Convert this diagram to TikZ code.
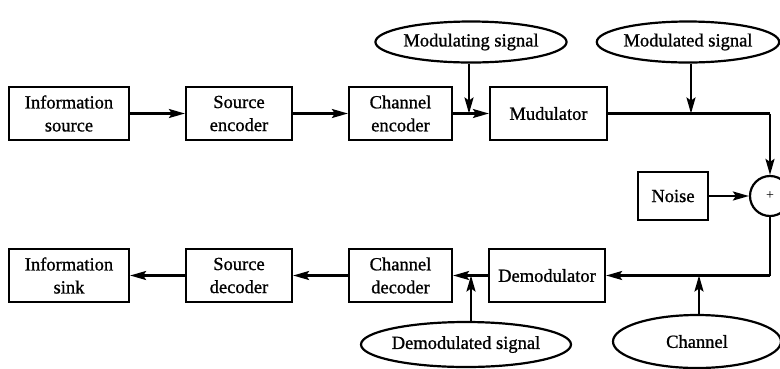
\documentclass[tikz,border=0pt]{standalone}
\usepackage{fontspec}
\setmainfont{Liberation Serif}[AutoFakeBold=1.0]
\usetikzlibrary{arrows.meta,shapes.geometric}
\tikzset{
  blk/.style={draw,line width=2.2pt,rectangle,minimum height=53pt,align=center,inner sep=0pt,font=\fontsize{18.5}{23}\selectfont\bfseries},
  oval/.style={draw,line width=2.2pt,ellipse,inner sep=0pt,font=\fontsize{18.5}{23}\selectfont\bfseries},
  conn/.style={line width=2.2pt,-{Stealth[length=16pt,width=9pt,inset=3pt]}},
  wire/.style={line width=2.2pt},
}
\begin{document}
\begin{tikzpicture}[x=1pt,y=-1pt]
\useasboundingbox (0,0) rectangle (780,368);
\node[blk,minimum width=120pt] (isrc) at (69,113.5) {Information\\source};
\node[blk,minimum width=106pt] (senc) at (239,113.5) {Source\\encoder};
\node[blk,minimum width=103pt] (cenc) at (400.5,113.5) {Channel\\encoder};
\node[blk,minimum width=117pt] (mod) at (548.5,113.5) {Mudulator};
\node[blk,minimum width=70pt,minimum height=48pt] (noise) at (673,196) {Noise};
\node[draw,line width=2.2pt,circle,minimum size=40pt,inner sep=0pt,font=\fontsize{14}{16}\selectfont] (sum) at (770,196) {+};
\node[blk,minimum width=116pt] (demod) at (547,275.5) {Demodulator};
\node[blk,minimum width=103pt] (cdec) at (400.5,275.5) {Channel\\decoder};
\node[blk,minimum width=106pt] (sdec) at (239,275.5) {Source\\decoder};
\node[blk,minimum width=120pt] (isink) at (69,275.5) {Information\\sink};
\node[oval,minimum width=167pt,minimum height=41pt] (ming) at (471,42) {Modulating signal};
\node[oval,minimum width=165pt,minimum height=41pt] (med) at (688,42) {Modulated signal};
\node[oval,minimum width=163pt,minimum height=45pt] (demsig) at (466,344.5) {Demodulated signal};
\node[oval,minimum width=168pt,minimum height=53pt] (chan) at (697,341.5) {Channel};
\draw[conn] (isrc) -- (senc);
\draw[conn] (senc) -- (cenc);
\draw[conn] (cenc) -- (mod);
\coordinate (j1) at (469,113.5);
\draw[conn] (ming.south -| j1) -- (j1);
\coordinate (corner1) at (770,113.5);
\coordinate (j2) at (691,113.5);
\draw[wire] (mod.east) -- (corner1);
\draw[conn] (corner1) -- (sum.north);
\draw[conn] (med.south -| j2) -- (j2);
\draw[conn] (noise) -- (sum);
\coordinate (corner2) at (770,275.5);
\draw[wire] (sum.south) -- (corner2);
\draw[conn] (corner2) -- (demod.east);
\coordinate (j3) at (699,275.5);
\draw[conn] (chan.north -| j3) -- (j3);
\draw[conn] (demod) -- (cdec);
\coordinate (j4) at (471,275.5);
\draw[conn] (demsig.north -| j4) -- (j4);
\draw[conn] (cdec) -- (sdec);
\draw[conn] (sdec) -- (isink);
\end{tikzpicture}
\end{document}
